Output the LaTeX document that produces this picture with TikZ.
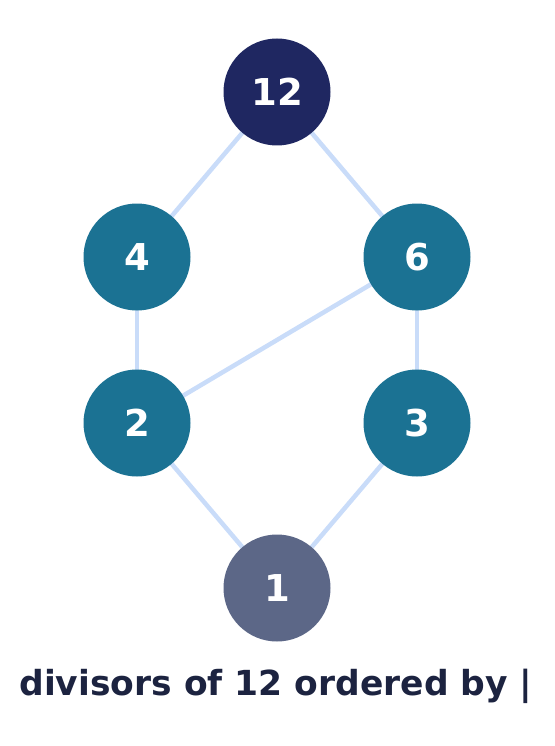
\documentclass[tikz,border=0pt]{standalone}
\usepackage{fontspec}
\setmainfont{DejaVu Sans}
\usetikzlibrary{backgrounds}
\definecolor{topnavy}{HTML}{1F2761}
\definecolor{midteal}{HTML}{1B7293}
\definecolor{botslate}{HTML}{5C6787}
\definecolor{edgeblue}{HTML}{C9DCF9}
\definecolor{captionink}{HTML}{1C2340}
\begin{document}
\begin{tikzpicture}[x=1pt, y=-1pt, cap=round]
\tikzset{
  divnode/.style={circle, minimum size=107pt, inner sep=0pt, text=white,
    font=\fontsize{37}{40}\selectfont\bfseries},
  divedge/.style={edgeblue, line width=4.5pt}
}
\useasboundingbox (0,0) rectangle (554,746);

% the divisors
\node[divnode, fill=topnavy]  (d12) at (277,92)  {12};
\node[divnode, fill=midteal]  (d4)  at (137,257) {4};
\node[divnode, fill=midteal]  (d6)  at (417,257) {6};
\node[divnode, fill=midteal]  (d2)  at (137,423) {2};
\node[divnode, fill=midteal]  (d3)  at (417,423) {3};
\node[divnode, fill=botslate] (d1)  at (277,588) {1};

% the cover relations
\begin{scope}[on background layer]
\foreach \a/\b in {d12/d4, d12/d6, d4/d2, d6/d2, d6/d3, d2/d1, d3/d1}
\draw[divedge] (\a.center) -- (\b.center);
\end{scope}

% the caption
\node[text=captionink, font=\fontsize{34.5}{40}\selectfont\bfseries] (caption) at (276,686)
  {divisors of 12 ordered by |};
\end{tikzpicture}
\end{document}
